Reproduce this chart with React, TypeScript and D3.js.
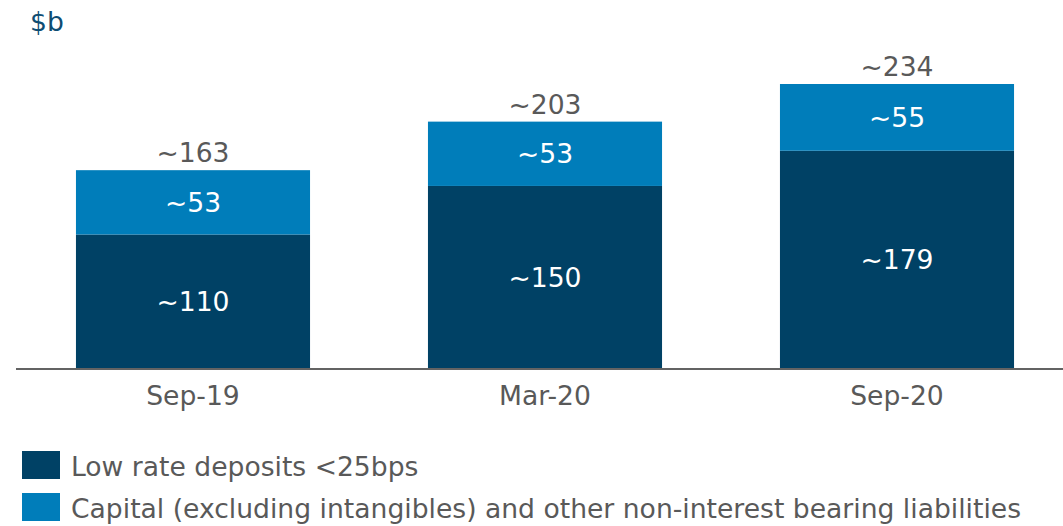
import React from "react";
import * as d3 from "d3";

const categories = ["Sep-19", "Mar-20", "Sep-20"];
const lowRate = [110, 150, 179];
const capital = [53, 53, 55];
const totals = [163, 203, 234];
const seriesNames = [
  "Low rate deposits <25bps",
  "Capital (excluding intangibles) and other non-interest bearing liabilities",
];
const colors = ["#004165", "#007dba"];

const W = 1063;
const H = 526;
const FONT = "Verdana, 'DejaVu Sans', sans-serif";
const FS = 26.6;

export default function App() {
  const x = d3
    .scaleBand<string>()
    .domain(categories)
    .range([17, 1073])
    .paddingInner(0.335)
    .paddingOuter(0.1675);
  const y = d3.scaleLinear().domain([0, 234]).range([368, 84]);

  const rows = categories.map((c, i) => ({ c, low: lowRate[i], cap: capital[i], total: totals[i] }));
  const stack = d3.stack<any>().keys(["low", "cap"])(rows);

  return (
    <svg width={W} height={H} style={{ position: "absolute", left: 0, top: 0, fontFamily: FONT }}>
      <rect width={W} height={H} fill="#ffffff" />
      <text x={30} y={31} fontSize={FS} fill="#0e4d73">$b</text>
      {stack.map((s, si) =>
        s.map((d, i) => {
          const x0 = x(categories[i])!;
          const top = y(d[1]);
          const bot = y(d[0]);
          return (
            <g key={`${si}-${i}`}>
              <rect x={x0} y={top} width={x.bandwidth()} height={bot - top} fill={colors[si]} />
              <text
                x={x0 + x.bandwidth() / 2}
                y={(top + bot) / 2}
                dy="0.36em"
                textAnchor="middle"
                fontSize={FS}
                fill="#ffffff"
              >
                {"~" + (si === 0 ? lowRate[i] : capital[i])}
              </text>
            </g>
          );
        })
      )}
      {rows.map((r, i) => (
        <text
          key={r.c}
          x={x(r.c)! + x.bandwidth() / 2}
          y={y(r.total) - 8}
          textAnchor="middle"
          fontSize={FS}
          fill="#595959"
        >
          {"~" + r.total}
        </text>
      ))}
      <line x1={16} x2={W} y1={y(0) + 1} y2={y(0) + 1} stroke="#636363" strokeWidth={2} />
      {categories.map((c) => (
        <text key={c} x={x(c)! + x.bandwidth() / 2} y={405} textAnchor="middle" fontSize={FS} fill="#595959">
          {c}
        </text>
      ))}
      {seriesNames.map((n, i) => (
        <g key={n} transform={`translate(22, ${451 + i * 42})`}>
          <rect width={38} height={28} fill={colors[i]} />
          <text x={49} y={25} fontSize={FS} fill="#595959">
            {n}
          </text>
        </g>
      ))}
    </svg>
  );
}
